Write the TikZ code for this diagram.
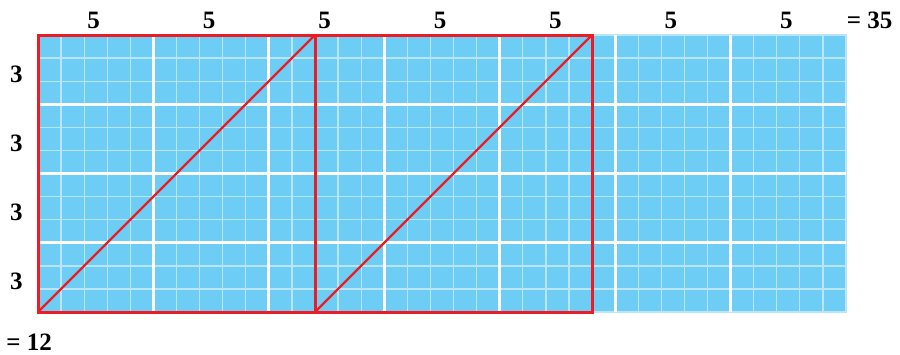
\documentclass[tikz,border=0pt]{standalone}
\usepackage{fontspec}
\setmainfont{Liberation Serif}
\definecolor{cellblue}{HTML}{6DCDF5}
\definecolor{thinline}{HTML}{B8E5F8}
\definecolor{redline}{HTML}{ED1C24}
\begin{document}
\begin{tikzpicture}[x=1pt,y=-1pt,
  lbl/.style={font=\bfseries\fontsize{25}{25}\selectfont, inner sep=0pt, anchor=base},
  thin grid/.style={draw=thinline, line width=1.3pt},
  thick grid/.style={draw=white, line width=3.2pt},
  redbox/.style={draw=redline, line width=3pt},
  reddiag/.style={draw=redline, line width=2.3pt}]
\useasboundingbox (0,0) rectangle (900,354);
\def\s{23.086}
\fill[cellblue] (38,35) rectangle (846,312);
\foreach \i in {1,...,34} \draw[thin grid] ({38+\i*\s},35) -- ({38+\i*\s},312);
\foreach \j in {1,...,11} \draw[thin grid] (38,{35+\j*\s}) -- (846,{35+\j*\s});
\draw[thin grid] (38,35) rectangle (846,312);
\foreach \i in {5,10,...,30} \draw[thick grid] ({38+\i*\s},35) -- ({38+\i*\s},312);
\foreach \j in {3,6,9} \draw[thick grid] (38,{35+\j*\s}) -- (846,{35+\j*\s});
\coordinate (bl1) at (38,312);
\coordinate (tr1) at ({38+12*\s},35);
\coordinate (bl2) at ({38+12*\s},312);
\coordinate (tr2) at ({38+24*\s},35);
\draw[reddiag] (bl1) -- (tr1);
\draw[reddiag] (bl2) -- (tr2);
\draw[redbox] (bl1) rectangle (tr1);
\draw[redbox] (bl2) rectangle (tr2);
\foreach \k in {0,...,6} \node[lbl] (top\k) at ({38+(2.5+5*\k)*\s-2},28.3) {5};
\node[lbl] (total35) at (869.5,28.3) {= 35};
\foreach \k in {0,...,3} \node[lbl] (left\k) at (16.4,{82+3*\k*\s}) {3};
\node[lbl] (total12) at (29,350) {= 12};
\end{tikzpicture}
\end{document}
